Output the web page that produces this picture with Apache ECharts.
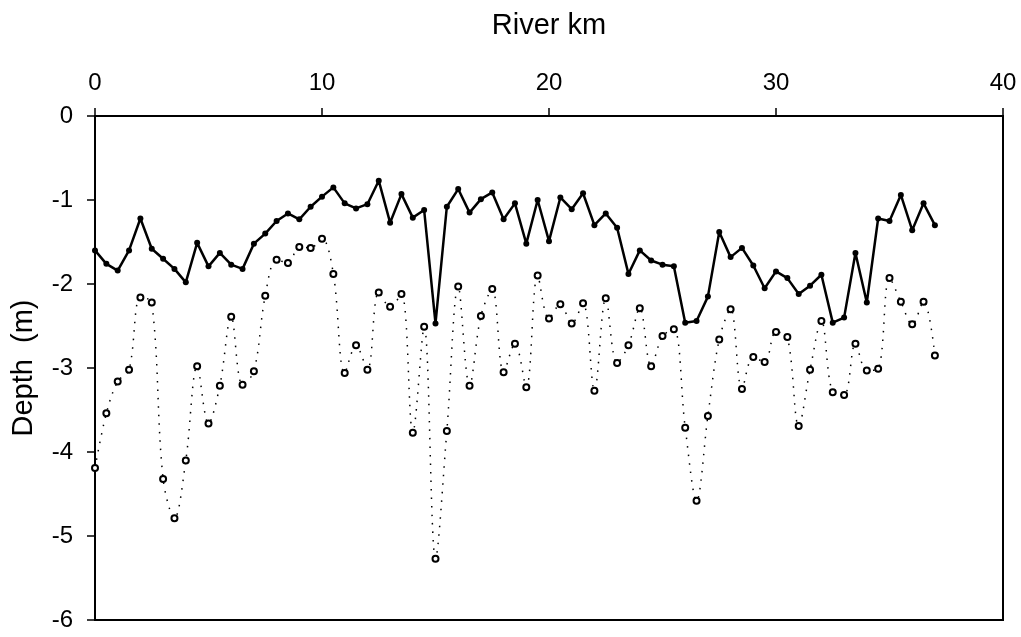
<!DOCTYPE html>
<html>
<head>
<meta charset="utf-8">
<script src="https://cdn.jsdelivr.net/npm/echarts@6/dist/echarts.min.js"></script>
<style>html,body{margin:0;padding:0;background:#fff}#c{width:1021px;height:637px}</style>
</head>
<body>
<div id="c"></div>
<script>
const riverKm = [0,0.5,1,1.5,2,2.5,3,3.5,4,4.5,5,5.5,6,6.5,7,7.5,8,8.5,9,9.5,10,10.5,11,11.5,12,12.5,13,13.5,14,14.5,15,15.5,16,16.5,17,17.5,18,18.5,19,19.5,20,20.5,21,21.5,22,22.5,23,23.5,24,24.5,25,25.5,26,26.5,27,27.5,28,28.5,29,29.5,30,30.5,31,31.5,32,32.5,33,33.5,34,34.5,35,35.5,36,36.5,37];
const depthSolid = [-1.60,-1.76,-1.84,-1.60,-1.22,-1.58,-1.70,-1.82,-1.98,-1.51,-1.79,-1.63,-1.77,-1.82,-1.52,-1.40,-1.25,-1.16,-1.23,-1.08,-0.96,-0.85,-1.04,-1.10,-1.05,-0.77,-1.27,-0.93,-1.21,-1.12,-2.47,-1.08,-0.87,-1.15,-0.99,-0.91,-1.23,-1.04,-1.52,-1.00,-1.49,-0.97,-1.11,-0.92,-1.30,-1.16,-1.33,-1.88,-1.60,-1.72,-1.77,-1.79,-2.46,-2.44,-2.15,-1.38,-1.68,-1.57,-1.78,-2.05,-1.85,-1.93,-2.12,-2.02,-1.89,-2.46,-2.40,-1.63,-2.22,-1.22,-1.25,-0.94,-1.36,-1.04,-1.30];
const depthDotted = [-4.19,-3.54,-3.16,-3.02,-2.16,-2.22,-4.32,-4.79,-4.10,-2.98,-3.66,-3.21,-2.39,-3.20,-3.04,-2.14,-1.71,-1.75,-1.56,-1.57,-1.46,-1.88,-3.06,-2.73,-3.02,-2.10,-2.27,-2.12,-3.77,-2.51,-5.27,-3.75,-2.03,-3.21,-2.38,-2.06,-3.05,-2.71,-3.23,-1.90,-2.41,-2.24,-2.47,-2.23,-3.27,-2.17,-2.94,-2.73,-2.29,-2.98,-2.62,-2.54,-3.71,-4.58,-3.57,-2.66,-2.30,-3.25,-2.87,-2.93,-2.57,-2.63,-3.69,-3.02,-2.44,-3.29,-3.32,-2.71,-3.03,-3.01,-1.93,-2.21,-2.48,-2.21,-2.85];
const xTicks = [0,10,20,30,40];
const yTicks = [0,-1,-2,-3,-4,-5,-6];

const font = '"Liberation Sans", Arial, sans-serif';
const chart = echarts.init(document.getElementById('c'), null, {renderer:'canvas'});
chart.setOption({
  animation:false,
  backgroundColor:'#fff',
  grid:{left:95,right:18,top:116,bottom:17,show:true,borderColor:'#000',borderWidth:2,backgroundColor:'transparent'},
  xAxis:{
    type:'value', position:'top', min:xTicks[0], max:xTicks[xTicks.length-1], interval:10,
    name:'River km', nameLocation:'middle', nameGap:76,
    nameTextStyle:{fontFamily:font,fontSize:29,color:'#000'},
    axisLine:{show:true,onZero:false,lineStyle:{color:'#000',width:2}},
    axisTick:{show:true,inside:false,length:8,lineStyle:{color:'#000',width:1.5}},
    axisLabel:{fontFamily:font,fontSize:24,color:'#000',margin:21},
    splitLine:{show:false}
  },
  yAxis:{
    type:'value', min:yTicks[yTicks.length-1], max:yTicks[0], interval:1,
    name:'Depth  (m)', nameLocation:'middle', nameGap:57, nameRotate:90,
    nameTextStyle:{fontFamily:font,fontSize:29,color:'#000'},
    axisLine:{show:true,onZero:false,lineStyle:{color:'#000',width:1.5}},
    axisTick:{show:true,inside:false,length:8,lineStyle:{color:'#000',width:1.5}},
    axisLabel:{fontFamily:font,fontSize:24,color:'#000',margin:22},
    splitLine:{show:false}
  },
  series:[
    {
      type:'line', data:riverKm.map((k,i)=>[k,depthDotted[i]]),
      smooth:0.35, symbol:'circle', symbolSize:6,
      itemStyle:{color:'#fff',borderColor:'#000',borderWidth:2},
      lineStyle:{color:'#000',width:1.5,type:[1.5,7]},
      z:2
    },
    {
      type:'line', data:riverKm.map((k,i)=>[k,depthSolid[i]]),
      smooth:false, symbol:'circle', symbolSize:6,
      itemStyle:{color:'#000',borderColor:'#000',borderWidth:0},
      lineStyle:{color:'#000',width:2.5},
      z:3
    }
  ]
});
</script>
</body>
</html>
